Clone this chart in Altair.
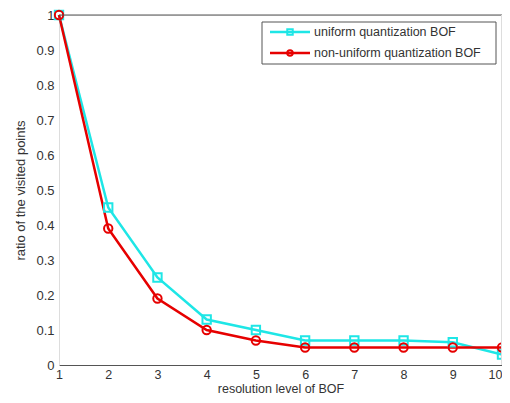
import altair as alt
import pandas as pd

levels = [1, 2, 3, 4, 5, 6, 7, 8, 9, 10]
uniform = [1.0, 0.45, 0.25, 0.13, 0.10, 0.07, 0.07, 0.07, 0.065, 0.03]
nonuniform = [1.0, 0.39, 0.19, 0.10, 0.07, 0.05, 0.05, 0.05, 0.05, 0.05]
series_names = ["uniform quantization BOF", "non-uniform quantization BOF"]
series_values = [uniform, nonuniform]
colors = ["#1ee6e6", "#e60000"]
shapes = ["square", "circle"]
y_ticks = [0, 0.1, 0.2, 0.3, 0.4, 0.5, 0.6, 0.7, 0.8, 0.9, 1.0]

rows = []
for name, vals in zip(series_names, series_values):
    for lv, v in zip(levels, vals):
        rows.append({"level": lv, "ratio": v, "series": name})
df = pd.DataFrame(rows)

W, H = 443, 350
FONT = "Liberation Sans"

color = alt.Color("series:N", scale=alt.Scale(domain=series_names, range=colors), legend=None)
shape = alt.Shape("series:N", scale=alt.Scale(domain=series_names, range=shapes), legend=None)

x = alt.X("level:Q", scale=alt.Scale(domain=[1, 10], nice=False),
          axis=alt.Axis(values=levels, format="d", title="resolution level of BOF",
                        grid=False, ticks=False, labelPadding=3, titlePadding=2,
                        labelAlign=alt.ExprRef("datum.value == 10 ? 'right' : 'center'"),
                        domainColor="#555", labelFontSize=12.5, titleFontSize=12.5,
                        labelColor="#333", titleColor="#333", labelFont=FONT, titleFont=FONT,
                        titleFontWeight="normal"))
y = alt.Y("ratio:Q", scale=alt.Scale(domain=[0, 1], nice=False),
          axis=alt.Axis(values=y_ticks, format=".1~f", title="ratio of the visited points",
                        grid=False, ticks=False, labelPadding=5, titlePadding=8,
                        domainColor="#dddddd", labelFontSize=13, titleFontSize=13,
                        labelColor="#333", titleColor="#333", labelFont=FONT, titleFont=FONT,
                        titleFontWeight="normal"))

base = alt.Chart(df)
lines = base.mark_line(strokeWidth=2.5).encode(x=x, y=y, color=color, detail="series:N")
points = base.mark_point(filled=False, strokeWidth=2, size=70, opacity=1).encode(
    x=x, y=y, color=color, shape=shape)

frame_df = pd.DataFrame({"k": [0]})
top_rule = alt.Chart(frame_df).mark_rule(color="#555", strokeWidth=1).encode(
    x=alt.value(0), x2=alt.value(W), y=alt.value(0))
right_rule = alt.Chart(frame_df).mark_rule(color="#dddddd", strokeWidth=1).encode(
    x=alt.value(W - 0.5), y=alt.value(0), y2=alt.value(H))

legend_box = alt.Chart(frame_df).mark_rect(fill="white", stroke="#555", strokeWidth=1).encode(
    x=alt.value(203), x2=alt.value(437), y=alt.value(7), y2=alt.value(49))

legend_layers = [legend_box]
for i, (name, c, s) in enumerate(zip(series_names, colors, shapes)):
    ld = pd.DataFrame({"series": [name]})
    ly = 17 + 21 * i
    legend_layers.append(alt.Chart(ld).mark_rule(strokeWidth=2.5, color=c).encode(
        x=alt.value(211), x2=alt.value(251), y=alt.value(ly)))
    legend_layers.append(alt.Chart(ld).mark_point(filled=False, strokeWidth=2, size=30,
                                                  shape=s, color=c, opacity=1).encode(
        x=alt.value(231), y=alt.value(ly)))
    legend_layers.append(alt.Chart(ld).mark_text(align="left", baseline="middle", fontSize=12.5,
                                                 font=FONT, color="#333").encode(
        x=alt.value(255), y=alt.value(ly), text="series:N"))

chart = alt.layer(lines, points, top_rule, right_rule, *legend_layers).properties(
    width=W, height=H,
    autosize=alt.AutoSizeParams(type="none"),
    padding={"left": 51, "top": 7, "right": 0, "bottom": 30},
).configure_view(stroke=None).configure(background="white")

chart.save("out.html", embed_options={"renderer": "svg", "actions": False})
